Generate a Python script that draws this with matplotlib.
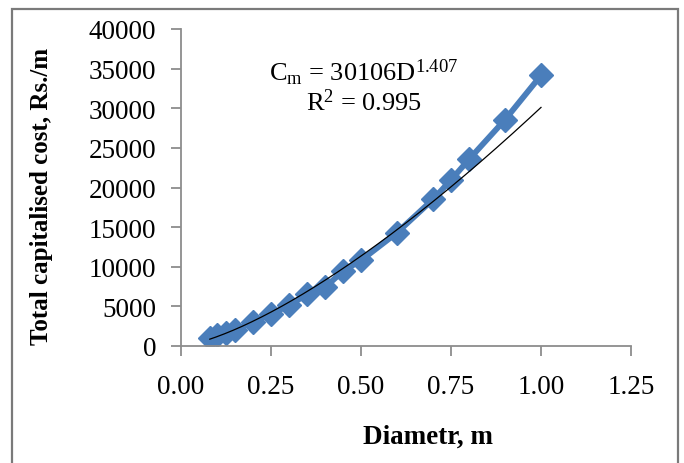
import numpy as np
import matplotlib
matplotlib.use("Agg")
import matplotlib.pyplot as plt
from matplotlib.patches import Rectangle

plt.rcParams['font.family'] = 'Liberation Serif'
plt.rcParams['mathtext.fontset'] = 'custom'
plt.rcParams['mathtext.rm'] = 'Liberation Serif'
plt.rcParams['mathtext.it'] = 'Liberation Serif:italic'

# data
diameter = [0.08, 0.10, 0.125, 0.15, 0.20, 0.25, 0.30, 0.35, 0.40, 0.45,
            0.50, 0.60, 0.70, 0.75, 0.80, 0.90, 1.00]
cost = [1050, 1450, 1700, 2000, 3050, 4000, 5150, 6500, 7400, 9450,
        10800, 14300, 18500, 20950, 23550, 28550, 34150]
fit_coef = 30106
fit_exp = 1.407
r_squared = 0.995

blue = '#4a7ebb'
grey = '#8c8c8c'
H = 464

fig = plt.figure(figsize=(6.84, 4.64), dpi=100)
ax = fig.add_axes([181/684, 1 - 347/H, 450/684, 317/H])

ax.plot(diameter, cost, color=blue, lw=4.2, marker='D', ms=12.5,
        mec=blue, mfc=blue, zorder=2)

# power trend line
d = np.linspace(diameter[0], diameter[-1], 200)
ax.plot(d, fit_coef * d ** fit_exp, color='black', lw=0.9, zorder=3)

ax.set_xlim(0, 1.25)
ax.set_ylim(0, 40000)
ax.set_xticks(np.arange(0, 1.26, 0.25))
ax.set_xticklabels(['%.2f' % v for v in np.arange(0, 1.26, 0.25)])
ax.set_yticks(np.arange(0, 40001, 5000))

for s in ['top', 'right']:
    ax.spines[s].set_visible(False)
for s in ['left', 'bottom']:
    ax.spines[s].set_color(grey)
    ax.spines[s].set_linewidth(1.3)
ax.tick_params(axis='both', direction='out', length=7, width=1.3,
               color=grey, labelsize=19.5)
ax.tick_params(axis='y', pad=11)
ax.tick_params(axis='x', pad=13)

ax.set_xlabel('Diametr, m', fontsize=19.5, fontweight='bold', va='center')
ax.xaxis.set_label_coords((428 - 181) / 450, (347 - 437) / 317)
ax.set_ylabel('Total capitalised cost, Rs./m', fontsize=18, fontweight='bold',
              va='center')
ax.yaxis.set_label_coords((41 - 181) / 450, (347 - 196) / 317)

fig.text(364/684, 1 - 73/H,
         r'C$_\mathrm{m}$ = %dD$^{\mathrm{%.3f}}$' % (fit_coef, fit_exp),
         fontsize=19, ha='center', va='center')
fig.text(364/684, 1 - 103/H, r'R$^\mathrm{2}$ = %.3f' % r_squared,
         fontsize=19, ha='center', va='center')

fig.patches.append(Rectangle((12/684, -0.1), (678 - 12)/684, 1.1 - 10/H,
                             transform=fig.transFigure, fill=False,
                             edgecolor='#7a7a7a', lw=1.6))

fig.savefig('out.png', dpi=100)
